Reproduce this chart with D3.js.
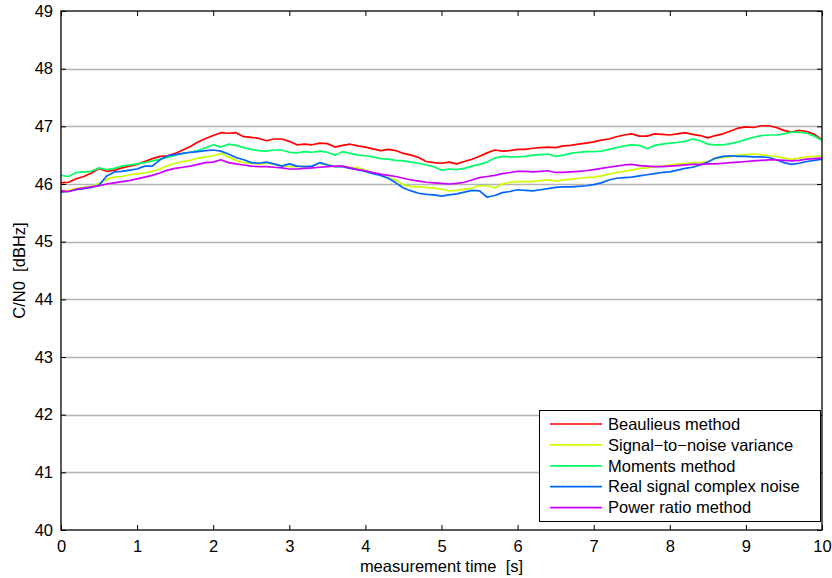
<!DOCTYPE html>
<html>
<head>
<meta charset="utf-8">
<script src="https://cdn.jsdelivr.net/npm/d3@7"></script>
<style>
body { margin: 0; background: #fff; }
svg { font-family: "Liberation Sans", Arial, sans-serif; }
text { white-space: pre; }
</style>
</head>
<body>
<svg id="grafico"></svg>
<script>
// amostras a cada 0.1 s, de 0 a 10 s
const passo = 0.1;

const beaulieu = [
  46.02, 46.03, 46.09, 46.13, 46.19, 46.27, 46.22, 46.24, 46.28, 46.31,
  46.34, 46.39, 46.44, 46.48, 46.49, 46.53, 46.59, 46.65, 46.73, 46.79,
  46.84, 46.89, 46.88, 46.89, 46.82, 46.81, 46.79, 46.75, 46.78, 46.78,
  46.74, 46.68, 46.69, 46.68, 46.71, 46.70, 46.64, 46.67, 46.69, 46.66,
  46.64, 46.61, 46.58, 46.60, 46.58, 46.53, 46.50, 46.46, 46.39, 46.37,
  46.36, 46.38, 46.35, 46.39, 46.43, 46.48, 46.54, 46.59, 46.57, 46.58,
  46.60, 46.60, 46.62, 46.63, 46.64, 46.63, 46.66, 46.67, 46.69, 46.71,
  46.73, 46.76, 46.78, 46.82, 46.85, 46.87, 46.83, 46.83, 46.87, 46.86,
  46.85, 46.87, 46.89, 46.86, 46.84, 46.80, 46.84, 46.87, 46.92, 46.97,
  46.99, 46.98, 47.01, 47.01, 46.98, 46.93, 46.90, 46.93, 46.91, 46.86,
  46.77
];

const snrVariance = [
  45.88, 45.89, 45.92, 45.94, 45.96, 46.01, 46.08, 46.12, 46.13, 46.16,
  46.18, 46.19, 46.22, 46.26, 46.32, 46.36, 46.39, 46.41, 46.45, 46.47,
  46.49, 46.53, 46.47, 46.41, 46.37, 46.36, 46.35, 46.36, 46.34, 46.32,
  46.30, 46.31, 46.30, 46.31, 46.36, 46.34, 46.30, 46.30, 46.29, 46.28,
  46.24, 46.20, 46.15, 46.11, 46.07, 45.98, 45.96, 45.95, 45.94, 45.93,
  45.91, 45.88, 45.89, 45.91, 45.93, 45.97, 45.97, 45.93, 46.00, 46.03,
  46.04, 46.04, 46.04, 46.06, 46.07, 46.05, 46.07, 46.08, 46.10, 46.11,
  46.12, 46.14, 46.17, 46.20, 46.22, 46.24, 46.27, 46.28, 46.30, 46.31,
  46.33, 46.35, 46.36, 46.37, 46.37, 46.39, 46.44, 46.46, 46.48, 46.50,
  46.51, 46.52, 46.51, 46.49, 46.48, 46.45, 46.43, 46.45, 46.47, 46.48,
  46.48
];

const moments = [
  46.15, 46.13, 46.20, 46.21, 46.22, 46.28, 46.25, 46.27, 46.31, 46.33,
  46.35, 46.37, 46.40, 46.43, 46.46, 46.50, 46.53, 46.55, 46.58, 46.63,
  46.68, 46.64, 46.69, 46.67, 46.63, 46.60, 46.58, 46.57, 46.59, 46.59,
  46.55, 46.54, 46.56, 46.55, 46.57, 46.55, 46.50, 46.56, 46.53, 46.50,
  46.49, 46.47, 46.44, 46.43, 46.41, 46.40, 46.38, 46.36, 46.33, 46.30,
  46.24, 46.26, 46.25, 46.27, 46.31, 46.34, 46.38, 46.45, 46.48, 46.47,
  46.47, 46.48, 46.50, 46.51, 46.52, 46.48, 46.50, 46.53, 46.55, 46.56,
  46.56, 46.57, 46.60, 46.63, 46.66, 46.68, 46.67, 46.61, 46.67, 46.69,
  46.71, 46.72, 46.74, 46.78, 46.75, 46.69, 46.68, 46.68, 46.70, 46.73,
  46.77, 46.81, 46.84, 46.85, 46.85, 46.87, 46.90, 46.90, 46.88, 46.83,
  46.76
];

const realComplex = [
  45.86, 45.87, 45.90, 45.92, 45.94, 45.98, 46.14, 46.21, 46.22, 46.24,
  46.26, 46.31, 46.31, 46.42, 46.49, 46.51, 46.53, 46.55, 46.56, 46.58,
  46.59, 46.57, 46.52, 46.46, 46.42, 46.37, 46.36, 46.38, 46.35, 46.31,
  46.35, 46.31, 46.30, 46.31, 46.37, 46.33, 46.30, 46.30, 46.27, 46.25,
  46.22, 46.18, 46.15, 46.10, 46.02, 45.93, 45.88, 45.84, 45.82, 45.81,
  45.79, 45.81, 45.83, 45.86, 45.89, 45.88, 45.77, 45.80, 45.85, 45.87,
  45.90, 45.89, 45.88, 45.90, 45.92, 45.94, 45.95, 45.95, 45.96, 45.97,
  45.99, 46.02, 46.07, 46.10, 46.11, 46.12, 46.14, 46.16, 46.18, 46.20,
  46.21, 46.24, 46.27, 46.29, 46.33, 46.38, 46.45, 46.48, 46.49, 46.48,
  46.48, 46.47, 46.47, 46.46, 46.42, 46.37, 46.34, 46.36, 46.39, 46.41,
  46.43
];

const powerRatio = [
  45.88, 45.87, 45.91, 45.93, 45.95, 45.97, 46.00, 46.02, 46.04, 46.06,
  46.09, 46.12, 46.15, 46.19, 46.24, 46.27, 46.29, 46.31, 46.34, 46.37,
  46.38, 46.42, 46.37, 46.35, 46.33, 46.31, 46.30, 46.30, 46.29, 46.28,
  46.26, 46.26, 46.27, 46.28, 46.29, 46.30, 46.31, 46.31, 46.28, 46.25,
  46.23, 46.20, 46.17, 46.15, 46.13, 46.10, 46.07, 46.05, 46.03, 46.02,
  46.01, 46.00, 46.01, 46.03, 46.07, 46.11, 46.13, 46.15, 46.18, 46.20,
  46.22, 46.22, 46.21, 46.22, 46.23, 46.20, 46.20, 46.21, 46.22, 46.23,
  46.25, 46.27, 46.29, 46.31, 46.33, 46.34, 46.32, 46.31, 46.30, 46.30,
  46.31, 46.32, 46.33, 46.34, 46.34, 46.35, 46.35, 46.36, 46.37, 46.38,
  46.39, 46.40, 46.41, 46.42, 46.42, 46.41, 46.40, 46.41, 46.43, 46.44,
  46.45
];

const seriesNames = [
  'Beaulieus method',
  'Signal\u2212to\u2212noise variance',
  'Moments method',
  'Real signal complex noise',
  'Power ratio method'
];
const seriesColors = ['#ff0000', '#ccff00', '#00ff66', '#0066ff', '#cc00ff'];
const xTicks = [0, 1, 2, 3, 4, 5, 6, 7, 8, 9, 10];
const yTicks = [40, 41, 42, 43, 44, 45, 46, 47, 48, 49];

function criaGrafico() {
  const largura = 832;
  const altura = 578;
  const margem = { esquerda: 61, direita: 10, superior: 11, inferior: 48 };
  const series = [beaulieu, snrVariance, moments, realComplex, powerRatio];

  const svg = d3.select('#grafico').attr('width', largura).attr('height', altura);

  const larguraPlotagem = largura - margem.esquerda - margem.direita;
  const alturaPlotagem = altura - margem.superior - margem.inferior;

  const plotagem = svg.append('g')
    .attr('transform', `translate(${margem.esquerda}, ${margem.superior})`);

  const x = d3.scaleLinear().domain([0, 10]).range([0, larguraPlotagem]);
  const y = d3.scaleLinear().domain([40, 49]).range([alturaPlotagem, 0]);

  // grade horizontal
  plotagem.append('g')
    .selectAll('line')
    .data(yTicks.slice(1, -1))
    .enter()
    .append('line')
    .attr('x1', 0)
    .attr('x2', larguraPlotagem)
    .attr('y1', d => Math.round(y(d)) + 0.5)
    .attr('y2', d => Math.round(y(d)) + 0.5)
    .attr('stroke', '#b4b4b4')
    .attr('stroke-width', 1.3);

  const linha = d3.line()
    .x((d, i) => x(i * passo))
    .y(d => y(d));

  plotagem.selectAll('.serie')
    .data(series)
    .enter()
    .append('path')
    .classed('serie', true)
    .attr('d', d => linha(d))
    .attr('fill', 'none')
    .attr('stroke', (d, i) => seriesColors[i])
    .attr('stroke-width', 1.7)
    .attr('stroke-linejoin', 'round');

  // eixos com marcas para dentro
  plotagem.append('g')
    .attr('transform', `translate(0, ${alturaPlotagem})`)
    .call(d3.axisBottom(x).tickValues(xTicks).tickFormat(d3.format('d'))
      .tickSizeInner(-5).tickSizeOuter(0).tickPadding(10));
  plotagem.append('g')
    .call(d3.axisTop(x).tickValues(xTicks).tickFormat('')
      .tickSizeInner(-5).tickSizeOuter(0));
  plotagem.append('g')
    .call(d3.axisLeft(y).tickValues(yTicks).tickFormat(d3.format('d'))
      .tickSizeInner(-5).tickSizeOuter(0).tickPadding(8));
  plotagem.append('g')
    .attr('transform', `translate(${larguraPlotagem}, 0)`)
    .call(d3.axisRight(y).tickValues(yTicks).tickFormat('')
      .tickSizeInner(-5).tickSizeOuter(0));

  plotagem.selectAll('.domain').remove();
  plotagem.selectAll('.tick line').attr('stroke', '#000');
  plotagem.selectAll('.tick text').attr('fill', '#000').style('font-size', '16.5px')
    .style('font-family', '"Liberation Sans", Arial, sans-serif');

  plotagem.append('rect')
    .attr('x', 0)
    .attr('y', 0)
    .attr('width', larguraPlotagem)
    .attr('height', alturaPlotagem)
    .attr('fill', 'none')
    .attr('stroke', '#000')
    .attr('stroke-width', 1.3);

  // títulos dos eixos
  svg.append('text')
    .attr('x', margem.esquerda + larguraPlotagem / 2)
    .attr('y', 572)
    .attr('text-anchor', 'middle')
    .style('font-size', '16.5px')
    .text('measurement time  [s]');

  svg.append('text')
    .attr('transform', `translate(25, ${margem.superior + alturaPlotagem / 2}) rotate(-90)`)
    .attr('text-anchor', 'middle')
    .style('font-size', '16.5px')
    .text('C/N0  [dBHz]');

  // legenda
  const legenda = plotagem.append('g')
    .attr('transform', `translate(${larguraPlotagem - 283}, ${alturaPlotagem - 120})`);

  legenda.append('rect')
    .attr('x', 0.5)
    .attr('y', 0.5)
    .attr('width', 281)
    .attr('height', 111)
    .attr('fill', '#fff')
    .attr('stroke', '#000')
    .attr('stroke-width', 1);

  const itens = legenda.selectAll('.item')
    .data(seriesNames)
    .enter()
    .append('g')
    .classed('item', true)
    .attr('transform', (d, i) => `translate(0, ${14 + i * 20.9})`);

  itens.append('line')
    .attr('x1', 11)
    .attr('x2', 63)
    .attr('stroke', (d, i) => seriesColors[i])
    .attr('stroke-width', 1.7);

  itens.append('text')
    .attr('x', 69)
    .attr('dy', '0.35em')
    .style('font-size', '16.5px')
    .text(d => d);
}

criaGrafico();
</script>
</body>
</html>
